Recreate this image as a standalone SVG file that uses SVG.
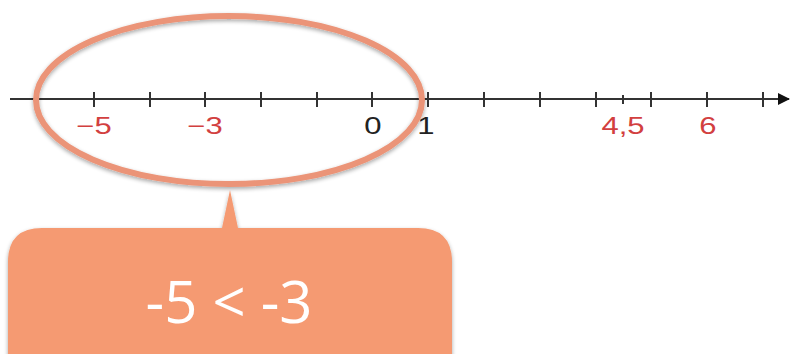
<svg xmlns="http://www.w3.org/2000/svg" width="790" height="354" viewBox="0 0 790 354">
<defs>
<style>
.tick{stroke:#333;stroke-width:2}
.lbl{font-family:"Liberation Sans",Arial,sans-serif;font-size:23px;text-anchor:middle}
.red{fill:#d2403f}
.blk{fill:#222}
</style>
<marker id="arr" markerWidth="12" markerHeight="12" refX="11" refY="6" orient="auto" markerUnits="userSpaceOnUse">
<path d="M0,0 L12,6 L0,12 Z" fill="#111"/>
</marker>
<filter id="sh" x="-10%" y="-10%" width="120%" height="130%">
<feGaussianBlur in="SourceAlpha" stdDeviation="2"/>
<feOffset dx="0" dy="2" result="b"/>
<feComponentTransfer><feFuncA type="linear" slope="0.35"/></feComponentTransfer>
<feMerge><feMergeNode/><feMergeNode in="SourceGraphic"/></feMerge>
</filter>
</defs>
<rect width="790" height="354" fill="#fff"/>
<g id="axis">
<line x1="10" y1="99" x2="789" y2="99" stroke="#333" stroke-width="2" marker-end="url(#arr)"/>
<line class="tick" x1="94" y1="92" x2="94" y2="107"/>
<line class="tick" x1="150" y1="92" x2="150" y2="107"/>
<line class="tick" x1="205" y1="92" x2="205" y2="107"/>
<line class="tick" x1="261" y1="92" x2="261" y2="107"/>
<line class="tick" x1="317" y1="92" x2="317" y2="107"/>
<line class="tick" x1="372" y1="92" x2="372" y2="107"/>
<line class="tick" x1="428" y1="92" x2="428" y2="107"/>
<line class="tick" x1="484" y1="92" x2="484" y2="107"/>
<line class="tick" x1="540" y1="92" x2="540" y2="107"/>
<line class="tick" x1="596" y1="92" x2="596" y2="107"/>
<line class="tick" x1="623" y1="95" x2="623" y2="104"/>
<line class="tick" x1="651" y1="92" x2="651" y2="107"/>
<line class="tick" x1="707" y1="92" x2="707" y2="107"/>
<line class="tick" x1="763" y1="92" x2="763" y2="107"/>
</g>
<g id="labels">
<text class="lbl red" transform="translate(94,134) scale(1.35,1)">−5</text>
<text class="lbl red" transform="translate(205,134) scale(1.35,1)">−3</text>
<text class="lbl blk" transform="translate(373,134) scale(1.35,1)">0</text>
<text class="lbl blk" transform="translate(426,134) scale(1.35,1)">1</text>
<text class="lbl red" transform="translate(623,134) scale(1.35,1)">4,5</text>
<text class="lbl red" transform="translate(708,134) scale(1.35,1)">6</text>
</g>
<g id="highlight">
<ellipse cx="229" cy="100" rx="193" ry="84" fill="none" stroke="#eb9478" stroke-width="6" filter="url(#sh)"/>
</g>
<g id="callout" filter="url(#sh)">
<path d="M230,190 L238,228 L418,228 Q452,228 452,262 L452,360 L8,360 L8,262 Q8,228 42,228 L222,228 Z" fill="#f59a72"/>
<text x="229" y="323" font-family="'Open Sans','DejaVu Sans',sans-serif" font-size="58" fill="#fff" text-anchor="middle">-5 &lt; -3</text>
</g>
</svg>
